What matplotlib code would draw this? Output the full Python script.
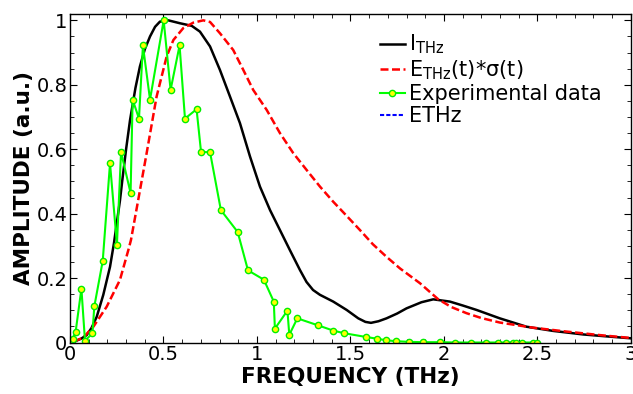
import numpy as np
import matplotlib
matplotlib.use('Agg')
import matplotlib.pyplot as plt
from matplotlib.ticker import MultipleLocator, FormatStrFormatter

# I_THz (black solid)
f_i = [0.02, 0.032, 0.06, 0.089, 0.115, 0.143, 0.178, 0.214, 0.235, 0.267, 0.28, 0.30, 0.321,
       0.35, 0.374, 0.40, 0.428, 0.455, 0.481, 0.526, 0.588, 0.651, 0.695, 0.749, 0.802,
       0.856, 0.909, 0.963, 1.016, 1.07, 1.123, 1.176, 1.23, 1.265, 1.30, 1.337, 1.408, 1.48,
       1.542, 1.58, 1.61, 1.65, 1.693, 1.75, 1.80, 1.88, 1.943, 2.032, 2.1, 2.175, 2.299,
       2.442, 2.584, 2.745, 2.87, 3.0]
a_i = [0.0, 0.005, 0.012, 0.023, 0.045, 0.08, 0.148, 0.235, 0.308, 0.44, 0.505, 0.60, 0.69,
       0.79, 0.857, 0.91, 0.95, 0.98, 0.996, 1.0, 0.991, 0.983, 0.965, 0.919, 0.846,
       0.763, 0.681, 0.577, 0.484, 0.411, 0.349, 0.287, 0.225, 0.188, 0.163, 0.148, 0.127, 0.101,
       0.075, 0.064, 0.061, 0.066, 0.075, 0.09, 0.106, 0.125, 0.134, 0.127, 0.115, 0.101, 0.075,
       0.049, 0.036, 0.025, 0.019, 0.013]

# E_THz(t)*sigma(t) (red dashed)
f_e = [0.02, 0.07, 0.125, 0.196, 0.267, 0.312, 0.326, 0.365, 0.41, 0.463, 0.517, 0.553,
       0.606, 0.66, 0.713, 0.749, 0.802, 0.873, 0.927, 0.98, 1.052, 1.123, 1.194, 1.265,
       1.337, 1.408, 1.48, 1.551, 1.62, 1.693, 1.765, 1.872, 1.97, 2.04, 2.121, 2.2, 2.299,
       2.477, 2.655, 2.834, 3.0]
a_e = [0.003, 0.015, 0.049, 0.111, 0.194, 0.287, 0.318, 0.443, 0.588, 0.763, 0.888, 0.939,
       0.976, 0.993, 1.0, 0.995, 0.96, 0.908, 0.846, 0.784, 0.722, 0.65, 0.588, 0.536,
       0.484, 0.437, 0.393, 0.349, 0.305, 0.266, 0.23, 0.184, 0.134, 0.11, 0.091, 0.076, 0.062,
       0.046, 0.034, 0.023, 0.014]

# experimental data (green with yellow markers)
f_x = [0.005, 0.014, 0.030, 0.061, 0.080, 0.120, 0.130, 0.175, 0.214, 0.251, 0.273, 0.324,
       0.335, 0.369, 0.390, 0.428, 0.501, 0.538, 0.586, 0.615, 0.677, 0.701, 0.749,
       0.807, 0.897, 0.952, 1.037, 1.090, 1.096, 1.163, 1.173, 1.216, 1.328, 1.408,
       1.465, 1.585, 1.640, 1.690, 1.745, 1.815, 1.889, 1.977, 2.062, 2.147, 2.224,
       2.29, 2.33, 2.37, 2.385, 2.42, 2.476, 2.499]
a_x = [0.003, 0.012, 0.033, 0.167, 0.006, 0.028, 0.112, 0.253, 0.556, 0.304, 0.591, 0.464,
       0.754, 0.695, 0.922, 0.754, 1.0, 0.784, 0.922, 0.695, 0.724, 0.591, 0.591,
       0.411, 0.343, 0.224, 0.195, 0.127, 0.043, 0.099, 0.024, 0.075, 0.053, 0.037,
       0.029, 0.017, 0.012, 0.007, 0.004, 0.002, 0.001, 0.001, 0.0, 0.0, 0.0,
       0.0, 0.0, 0.0, 0.0, 0.0, 0.0, 0.0]

fig = plt.figure(figsize=(6.33, 3.94), dpi=100)
ax = fig.add_axes([0.1106, 0.1307, 0.886, 0.834])

ax.plot(f_i, a_i, color='black', lw=1.8, label=r'I$_\mathregular{THz}$')
ax.plot(f_e, a_e, color='red', lw=1.8, ls=(0, (3.2, 1.4)), label=r'E$_\mathregular{THz}$(t)*σ(t)')
ax.plot(f_x, a_x, color='#00ff00', lw=1.5, marker='o', ms=4.5, mfc='yellow', mec='#00ee00',
        mew=1.0, label='Experimental data')
ax.plot([], [], color='blue', lw=1.5, ls=(0, (2, 1)), label='ETHz')

ax.set_xlim(0, 3)
ax.set_ylim(0, 1.02)
ax.xaxis.set_major_locator(MultipleLocator(0.5))
ax.xaxis.set_minor_locator(MultipleLocator(0.1))
ax.yaxis.set_major_locator(MultipleLocator(0.2))
ax.yaxis.set_minor_locator(MultipleLocator(0.05))
ax.xaxis.set_major_formatter(FormatStrFormatter('%g'))
ax.yaxis.set_major_formatter(FormatStrFormatter('%g'))
ax.tick_params(which='both', direction='in', top=True, right=True, labelsize=14, pad=2)
ax.tick_params(which='major', length=5)
ax.tick_params(which='minor', length=3)
for s in ax.spines.values():
    s.set_linewidth(1.0)

ax.set_xlabel('FREQUENCY (THz)', fontsize=15.5, fontweight='bold', labelpad=2)
ax.set_ylabel('AMPLITUDE (a.u.)', fontsize=15.5, fontweight='bold', labelpad=2)

ax.legend(loc='upper left', bbox_to_anchor=(0.545, 0.955), frameon=False, fontsize=15,
          handlelength=1.2, handletextpad=0.2, labelspacing=0.1, borderaxespad=0,
          borderpad=0.2)

fig.savefig('out.png', dpi=100)
